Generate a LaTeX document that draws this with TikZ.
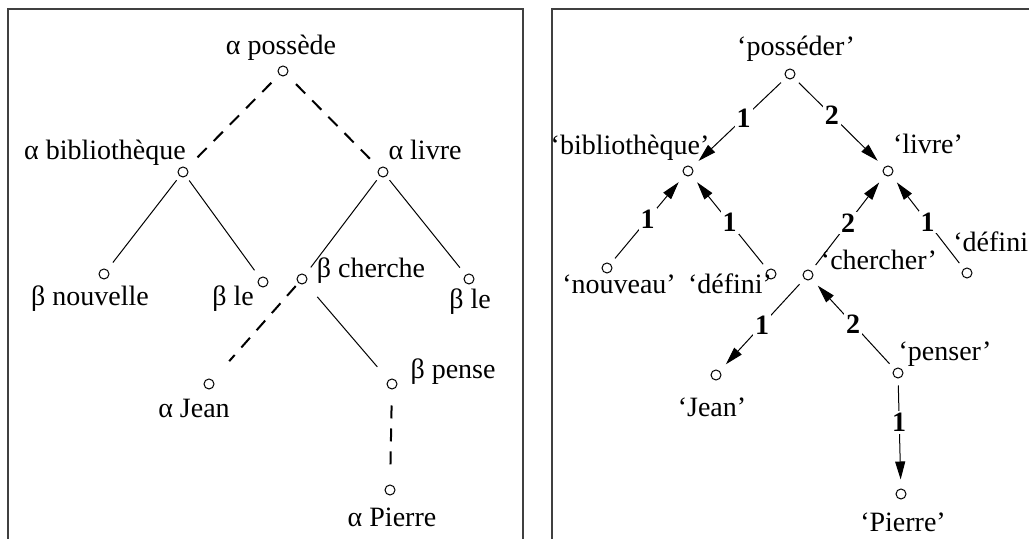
\documentclass[tikz,border=0pt]{standalone}
\usepackage{fontspec}
\setmainfont{Liberation Serif}
\usetikzlibrary{arrows.meta}

\begin{document}
\begin{tikzpicture}[
        % Define styles for consistency
        x=0.5pt, y=-0.5pt,
        font=\fontsize{14}{16}\selectfont,
        vertex/.style={circle, draw, inner sep=0pt, minimum size=5pt, line width=0.5pt},
        word/.style={inner sep=0pt, anchor=base},
        branch/.style={line width=0.5pt, shorten <=2.5pt, shorten >=4.5pt},
        link/.style={line width=1pt, dash pattern=on 6.5pt off 5pt},
        arc/.style={line width=0.5pt, -{Triangle[length=9pt, width=5pt]}, shorten <=3.5pt, shorten >=4.5pt},
        num/.style={font=\fontsize{14}{16}\selectfont\bfseries, fill=white, inner sep=1pt},
        frame/.style={line width=1pt, black!75}
    ]

        \useasboundingbox (0,0) rectangle (1029,539);

        % --- Frames ---
        \draw[frame] (8,539) -- (8,9) -- (523,9) -- (523,539);
        \draw[frame] (552,539) -- (552,9) -- (1029,9);

        % --- Left tree: vertices ---
        \node[vertex] (possede) at (283,71) {};
        \node[vertex] (biblio) at (183,172) {};
        \node[vertex] (livre) at (383,172) {};
        \node[vertex] (nouvelle) at (104,274) {};
        \node[vertex] (leA) at (263,282) {};
        \node[vertex] (cherche) at (302,279) {};
        \node[vertex] (leB) at (469,279) {};
        \node[vertex] (jean) at (209,384) {};
        \node[vertex] (pense) at (392,384) {};
        \node[vertex] (pierre) at (390,490) {};

        % Left tree: words
        \node[word] (possede-t) at (281,55) {α possède};
        \node[word] (biblio-t) at (105,160) {α bibliothèque};
        \node[word] (livre-t) at (425,160) {α livre};
        \node[word] (nouvelle-t) at (90,306) {β nouvelle};
        \node[word] (leA-t) at (233,306) {β le};
        \node[word] (cherche-t) at (371,278) {β cherche};
        \node[word] (leB-t) at (470,309) {β le};
        \node[word] (jean-t) at (194,418) {α Jean};
        \node[word] (pense-t) at (453,379) {β pense};
        \node[word] (pierre-t) at (392,527) {α Pierre};

        % Left tree: dashed links
        \draw[link, shorten <=5.5pt, shorten >=5pt] (possede) -- (biblio);
        \draw[link, shorten <=6.5pt, shorten >=5.5pt] (possede) -- (livre);
        \draw[link, shorten <=2pt, shorten >=12.5pt] (cherche) -- (jean);
        \draw[link, shorten <=8pt, shorten >=6.5pt] (pense) -- (pierre);

        % Left tree: solid branches
        \draw[branch] (biblio) -- (nouvelle);
        \draw[branch] (biblio) -- (leA);
        \draw[branch] (livre) -- (cherche);
        \draw[branch] (livre) -- (leB);
        \draw[branch, shorten <=9pt, shorten >=8.5pt] (cherche) -- (pense);

        % --- Right tree: vertices ---
        \node[vertex] (posseder) at (790,74) {};
        \node[vertex] (bibl) at (688,171) {};
        \node[vertex] (livreR) at (888,171) {};
        \node[vertex] (nouveau) at (607,268) {};
        \node[vertex] (definiA) at (771,274) {};
        \node[vertex] (chercher) at (808,275) {};
        \node[vertex] (definiB) at (967,273) {};
        \node[vertex] (jeanR) at (716,375) {};
        \node[vertex] (penser) at (898,373) {};
        \node[vertex] (pierreR) at (901,494) {};

        % Right tree: words
        \node[word] (posseder-t) at (796,56) {‘posséder’};
        \node[word] (bibl-t) at (630,155) {‘bibliothèque’};
        \node[word] (livreR-t) at (928,154) {‘livre’};
        \node[word] (nouveau-t) at (619,294) {‘nouveau’};
        \node[word] (definiA-t) at (730,294) {‘défini’};
        \node[word] (chercher-t) at (879,270) {‘chercher’};
        \node[word, anchor=base west] (definiB-t) at (953,252) {‘défini’};
        \node[word] (jeanR-t) at (712,417) {‘Jean’};
        \node[word] (penser-t) at (945,361) {‘penser’};
        \node[word] (pierreR-t) at (903,532) {‘Pierre’};

        % Right tree: numbered arcs
        \draw[arc] (posseder) -- node[num, pos=0.45] {1} (bibl);
        \draw[arc] (posseder) -- node[num, pos=0.42] {2} (livreR);
        \draw[arc] (nouveau) -- node[num] {1} (bibl);
        \draw[arc] (definiA) -- node[num] {1} (bibl);
        \draw[arc] (chercher) -- node[num] {2} (livreR);
        \draw[arc] (definiB) -- node[num] {1} (livreR);
        \draw[arc] (chercher) -- node[num] {1} (jeanR);
        \draw[arc] (penser) -- node[num] {2} (chercher);
        \draw[arc] (penser) -- node[num, pos=0.4] {1} (pierreR);

    \end{tikzpicture}
\end{document}
